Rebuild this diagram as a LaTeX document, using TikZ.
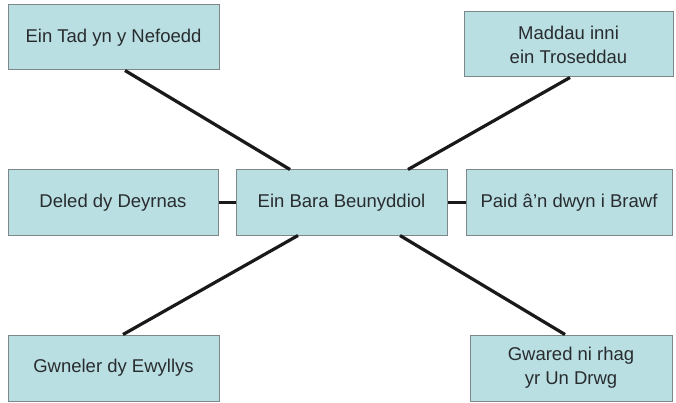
\documentclass[tikz,border=0pt]{standalone}
\usepackage{fontspec}
\setmainfont{Liberation Sans}
\definecolor{boxfill}{RGB}{186,223,227}
\definecolor{boxline}{RGB}{125,135,138}
\definecolor{txt}{RGB}{40,44,46}
\tikzset{
  pbox/.style={draw=boxline, line width=1pt, fill=boxfill, text=txt, inner sep=0pt,
    minimum height=65pt, align=center, font=\fontsize{18.5}{24}\selectfont},
  link/.style={line width=3.2pt, draw=black!90}
}
\begin{document}
\begin{tikzpicture}[x=1pt,y=-1pt]
\useasboundingbox (0,0) rectangle (676,403);
\node[pbox, minimum width=211pt] (tl) at (113.5,37.5) {Ein Tad yn y Nefoedd};
\node[pbox, minimum width=209pt] (tr) at (568.5,44.5) {Maddau inni\\ein Troseddau};
\node[pbox, minimum width=210pt] (dl) at (113,202.5) {Deled dy Deyrnas};
\node[pbox, minimum width=211pt] (c) at (341.5,202.5) {Ein Bara Beunyddiol};
\node[pbox, minimum width=206pt] (pr) at (569,202.5) {Paid â'n dwyn i Brawf};
\node[pbox, minimum width=211pt, minimum height=66pt] (bl) at (113.5,368) {Gwneler dy Ewyllys};
\node[pbox, minimum width=202pt, minimum height=66pt] (br) at (571,368) {Gwared ni rhag\\yr Un Drwg};
\draw[link] ([xshift=11.5pt]tl.south) -- ([xshift=-51.5pt]c.north);
\draw[link] ([xshift=1.5pt]tr.south) -- ([xshift=66.5pt]c.north);
\draw[link] (dl.east) -- (c.west);
\draw[link] (c.east) -- (pr.west);
\draw[link] ([xshift=-43.5pt]c.south) -- ([xshift=9.5pt]bl.north);
\draw[link] ([xshift=58.5pt]c.south) -- ([xshift=-6pt]br.north);
\end{tikzpicture}
\end{document}
